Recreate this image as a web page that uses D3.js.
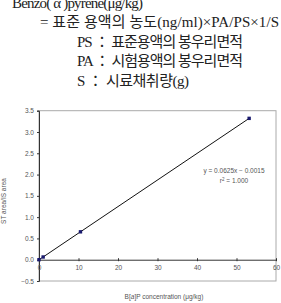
<!DOCTYPE html>
<html>
<head>
<meta charset="utf-8">
<script src="https://cdn.jsdelivr.net/npm/d3@7/dist/d3.min.js"></script>
<style>
  body { margin: 0; background: #fff; }
  svg { display: block; }
  .formula { font-family: "Liberation Serif", "Noto Sans CJK KR", serif; font-size: 15px; fill: #222; }
  .small { font-family: "Liberation Sans", Arial, sans-serif; font-size: 6.5px; fill: #555; }
</style>
</head>
<body>
<div id="chart"></div>
<script>
// formula lines above the chart
var formulaLines = [
  "Benzo( \u03B1 )pyrene(\u03BCg/kg)",
  "= \uD45C\uC900 \uC6A9\uC561\uC758 \uB18D\uB3C4(ng/ml)\u00D7PA/PS\u00D71/S",
  "PS \uFF1A \uD45C\uC900\uC6A9\uC561\uC758 \uBD09\uC6B0\uB9AC\uBA74\uC801",
  "PA \uFF1A \uC2DC\uD5D8\uC6A9\uC561\uC758 \uBD09\uC6B0\uB9AC\uBA74\uC801",
  "S \uFF1A \uC2DC\uB8CC\uCC44\uCDE8\uB7C9(g)"
];
var formulaIndent = [0, 1, 2, 2, 2];

// calibration data
var concentration = [0, 1.05, 10.5, 53.2];
var areaRatio = [0, 0.064, 0.655, 3.32];

var xTicks = [0, 10, 20, 30, 40, 50, 60];
var yTicks = [-0.5, 0, 0.5, 1.0, 1.5, 2.0, 2.5, 3.0, 3.5];

var slope = 0.0625, intercept = -0.0015, rSquared = 1.000;

let width = 281;
let height = 303;

let svg = d3.select("#chart").append("svg")
  .attr("width", width)
  .attr("height", height);

// formula text, widths matched to the scanned page
let indentX = [12, 40, 77];
let lineWidth = [131, 239, 166, 166, 112];
svg.selectAll("text.formula")
  .data(formulaLines)
  .enter().append("text")
  .attr("class", "formula")
  .attr("x", (d, i) => indentX[formulaIndent[i]])
  .attr("y", (d, i) => 8 + i * 19.4)
  .attr("textLength", (d, i) => lineWidth[i])
  .attr("lengthAdjust", "spacing")
  .text(d => d);

let x = d3.scaleLinear().domain([0, 60]).range([39, 276]);
let y = d3.scaleLinear().domain([-0.5, 3.5]).range([281, 110.7]);

// frame
svg.append("rect")
  .attr("x", x(0))
  .attr("y", y(3.5))
  .attr("width", x(60) - x(0))
  .attr("height", y(-0.5) - y(3.5))
  .attr("fill", "none")
  .attr("stroke", "#aaa")
  .attr("stroke-width", 1);

// y axis
let yAxis = svg.append("g")
  .attr("transform", "translate(" + x(0) + ",0)")
  .call(d3.axisLeft(y).tickValues(yTicks).tickSize(2).tickPadding(3).tickFormat(d3.format(".1f")));
yAxis.select(".domain").attr("stroke", "#333");
yAxis.selectAll(".tick line").attr("stroke", "#333");
yAxis.selectAll(".tick text").attr("class", "small").attr("font-family", null).attr("font-size", null).attr("fill", null);

// x axis at y = 0
let xAxis = svg.append("g")
  .attr("transform", "translate(0," + y(0) + ")")
  .call(d3.axisBottom(x).tickValues(xTicks).tickSize(0).tickPadding(6).tickFormat(d3.format("d")));
xAxis.select(".domain").attr("stroke", "#333");
xAxis.selectAll(".tick line").attr("stroke", "#333").attr("y1", -1.5).attr("y2", 1.5);
xAxis.selectAll(".tick text").attr("class", "small").attr("font-family", null).attr("font-size", null).attr("fill", null);

// trend line
let pts = concentration.map((c, i) => [c, areaRatio[i]]);
svg.append("path")
  .datum(pts)
  .attr("fill", "none")
  .attr("stroke", "#111")
  .attr("stroke-width", 1)
  .attr("d", d3.line().x(d => x(d[0])).y(d => y(d[1])));

// points
svg.selectAll("rect.pt")
  .data(pts)
  .enter().append("rect")
  .attr("class", "pt")
  .attr("x", d => x(d[0]) - 1.7)
  .attr("y", d => y(d[1]) - 1.7)
  .attr("width", 3.4)
  .attr("height", 3.4)
  .attr("fill", "#1a1a6e");

// equation
svg.append("text")
  .attr("class", "small")
  .attr("x", 234)
  .attr("y", 173)
  .attr("text-anchor", "middle")
  .text("y = " + slope.toFixed(4) + "x \u2212 " + Math.abs(intercept).toFixed(4));
let r2 = svg.append("text")
  .attr("class", "small")
  .attr("x", 234)
  .attr("y", 183)
  .attr("text-anchor", "middle");
r2.append("tspan").text("r");
r2.append("tspan").attr("dy", -2.5).attr("font-size", "4.5px").text("2");
r2.append("tspan").attr("dy", 2.5).text(" = " + rSquared.toFixed(3));

// axis titles
let xt = svg.append("text")
  .attr("class", "small")
  .attr("x", 164)
  .attr("y", 299)
  .attr("text-anchor", "middle");
xt.append("tspan").text("B[");
xt.append("tspan").attr("font-style", "italic").text("a");
xt.append("tspan").text("]P concentration (\u03BCg/kg)");

svg.append("text")
  .attr("class", "small")
  .attr("transform", "translate(6,201) rotate(-90)")
  .attr("text-anchor", "middle")
  .text("ST area/IS area");
</script>
</body>
</html>
